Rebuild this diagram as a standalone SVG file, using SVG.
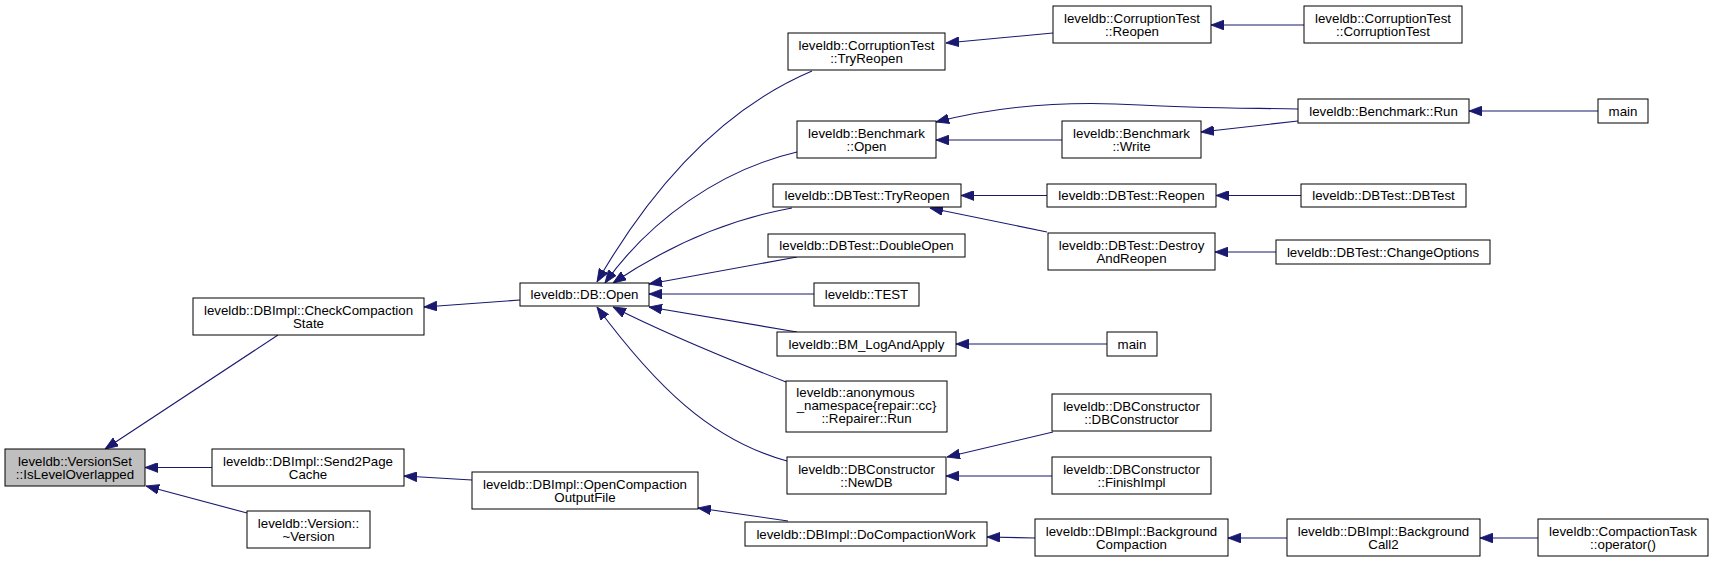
<svg xmlns="http://www.w3.org/2000/svg" width="1714" height="563" viewBox="0 0 1714 563">
<style>
.n rect{fill:#ffffff;stroke:#000000;stroke-width:1}
.n.cur rect{fill:#bfbfbf}
.n text{font-family:"Liberation Sans",Arial,Helvetica,sans-serif;font-size:13.3px;fill:#000000;text-anchor:middle}
#edges path{fill:none;stroke:#191970;stroke-width:1.1;marker-end:url(#ah)}
</style>
<defs>
<marker id="ah" markerUnits="userSpaceOnUse" markerWidth="13" markerHeight="10" viewBox="0 0 12 9" refX="12" refY="4.5" orient="auto">
<path d="M0,0 L12,4.5 L0,9 z" fill="#191970" stroke="#191970" stroke-width="0.8"/>
</marker>
</defs>
<rect width="1714" height="563" fill="#ffffff"/>
<g id="edges">
<path d="M278,335 L105,449"/>
<path d="M212,467.5 L145,467.5"/>
<path d="M247,513 L146,486"/>
<path d="M520,300 L424,307"/>
<path d="M472,480 L404,476"/>
<path d="M812,71 C720,110 650,190 597,282"/>
<path d="M797,152 C720,170 650,220 605,283"/>
<path d="M792,208 C725,220 665,248 613,283"/>
<path d="M797,257 L649,284"/>
<path d="M814,294 L649,294"/>
<path d="M797,332 L649,307"/>
<path d="M786,382 C730,360 670,336 613,307"/>
<path d="M787,461 C710,440 655,385 597,307"/>
<path d="M788,521 L698,508"/>
<path d="M1053,33 L946,43"/>
<path d="M1304,25 L1211,25"/>
<path d="M1298,109 C1240,108 1190,108 1140,105 C1060,100 990,108 936,122"/>
<path d="M1062,140 L936,140"/>
<path d="M1298,121 L1201,132"/>
<path d="M1047,195.5 L961,195.5"/>
<path d="M1047,232 L930,208"/>
<path d="M1301,195.5 L1216,195.5"/>
<path d="M1276,252 L1215,252"/>
<path d="M1598,111 L1469,111"/>
<path d="M1107,344 L956,344"/>
<path d="M1053,432 L947,457"/>
<path d="M1052,476 L946,476"/>
<path d="M1035,538 L987,537"/>
<path d="M1287,538 L1228,538"/>
<path d="M1538,538 L1480,538"/>
</g>
<g id="n1" class="n cur"><rect x="5" y="449" width="140" height="37"/><text x="75" y="466">leveldb::VersionSet</text><text x="75" y="479">::IsLevelOverlapped</text></g>
<g id="n2" class="n"><rect x="193" y="298" width="231" height="37"/><text x="308.5" y="315">leveldb::DBImpl::CheckCompaction</text><text x="308.5" y="328">State</text></g>
<g id="n3" class="n"><rect x="212" y="449" width="192" height="37"/><text x="308" y="466">leveldb::DBImpl::Send2Page</text><text x="308" y="479">Cache</text></g>
<g id="n4" class="n"><rect x="247" y="511" width="123" height="37"/><text x="308.5" y="528">leveldb::Version::</text><text x="308.5" y="541">~Version</text></g>
<g id="n5" class="n"><rect x="520" y="283" width="129" height="23"/><text x="584.5" y="299">leveldb::DB::Open</text></g>
<g id="n6" class="n"><rect x="472" y="472" width="226" height="37"/><text x="585" y="489">leveldb::DBImpl::OpenCompaction</text><text x="585" y="502">OutputFile</text></g>
<g id="n7" class="n"><rect x="788" y="33" width="157" height="37"/><text x="866.5" y="50">leveldb::CorruptionTest</text><text x="866.5" y="63">::TryReopen</text></g>
<g id="n8" class="n"><rect x="797" y="121" width="139" height="37"/><text x="866.5" y="138">leveldb::Benchmark</text><text x="866.5" y="151">::Open</text></g>
<g id="n9" class="n"><rect x="773" y="184" width="188" height="23"/><text x="867" y="200">leveldb::DBTest::TryReopen</text></g>
<g id="n10" class="n"><rect x="768" y="234" width="197" height="23"/><text x="866.5" y="250">leveldb::DBTest::DoubleOpen</text></g>
<g id="n11" class="n"><rect x="814" y="283" width="105" height="23"/><text x="866.5" y="299">leveldb::TEST</text></g>
<g id="n12" class="n"><rect x="777" y="332" width="179" height="24"/><text x="866.5" y="349">leveldb::BM_LogAndApply</text></g>
<g id="n13" class="n"><rect x="786" y="381" width="161" height="51"/><text x="855.5" y="397">leveldb::anonymous</text><text x="866.5" y="410">_namespace{repair::cc}</text><text x="866.5" y="423">::Repairer::Run</text></g>
<g id="n14" class="n"><rect x="787" y="457" width="159" height="37"/><text x="866.5" y="474">leveldb::DBConstructor</text><text x="866.5" y="487">::NewDB</text></g>
<g id="n15" class="n"><rect x="745" y="522" width="242" height="24"/><text x="866" y="539">leveldb::DBImpl::DoCompactionWork</text></g>
<g id="n16" class="n"><rect x="1053" y="6" width="158" height="37"/><text x="1132" y="23">leveldb::CorruptionTest</text><text x="1132" y="36">::Reopen</text></g>
<g id="n17" class="n"><rect x="1304" y="6" width="158" height="37"/><text x="1383" y="23">leveldb::CorruptionTest</text><text x="1383" y="36">::CorruptionTest</text></g>
<g id="n18" class="n"><rect x="1298" y="99" width="171" height="24"/><text x="1383.5" y="116">leveldb::Benchmark::Run</text></g>
<g id="n19" class="n"><rect x="1598" y="99" width="50" height="24"/><text x="1623" y="116">main</text></g>
<g id="n20" class="n"><rect x="1062" y="121" width="139" height="37"/><text x="1131.5" y="138">leveldb::Benchmark</text><text x="1131.5" y="151">::Write</text></g>
<g id="n21" class="n"><rect x="1047" y="184" width="169" height="23"/><text x="1131.5" y="200">leveldb::DBTest::Reopen</text></g>
<g id="n22" class="n"><rect x="1301" y="184" width="165" height="23"/><text x="1383.5" y="200">leveldb::DBTest::DBTest</text></g>
<g id="n23" class="n"><rect x="1048" y="233" width="167" height="37"/><text x="1131.5" y="250">leveldb::DBTest::Destroy</text><text x="1131.5" y="263">AndReopen</text></g>
<g id="n24" class="n"><rect x="1276" y="240" width="214" height="24"/><text x="1383" y="257">leveldb::DBTest::ChangeOptions</text></g>
<g id="n25" class="n"><rect x="1107" y="332" width="50" height="24"/><text x="1132" y="349">main</text></g>
<g id="n26" class="n"><rect x="1052" y="394" width="159" height="37"/><text x="1131.5" y="411">leveldb::DBConstructor</text><text x="1131.5" y="424">::DBConstructor</text></g>
<g id="n27" class="n"><rect x="1052" y="457" width="159" height="37"/><text x="1131.5" y="474">leveldb::DBConstructor</text><text x="1131.5" y="487">::FinishImpl</text></g>
<g id="n28" class="n"><rect x="1035" y="519" width="193" height="37"/><text x="1131.5" y="536">leveldb::DBImpl::Background</text><text x="1131.5" y="549">Compaction</text></g>
<g id="n29" class="n"><rect x="1287" y="519" width="193" height="37"/><text x="1383.5" y="536">leveldb::DBImpl::Background</text><text x="1383.5" y="549">Call2</text></g>
<g id="n30" class="n"><rect x="1538" y="519" width="170" height="37"/><text x="1623" y="536">leveldb::CompactionTask</text><text x="1623" y="549">::operator()</text></g>
</svg>
